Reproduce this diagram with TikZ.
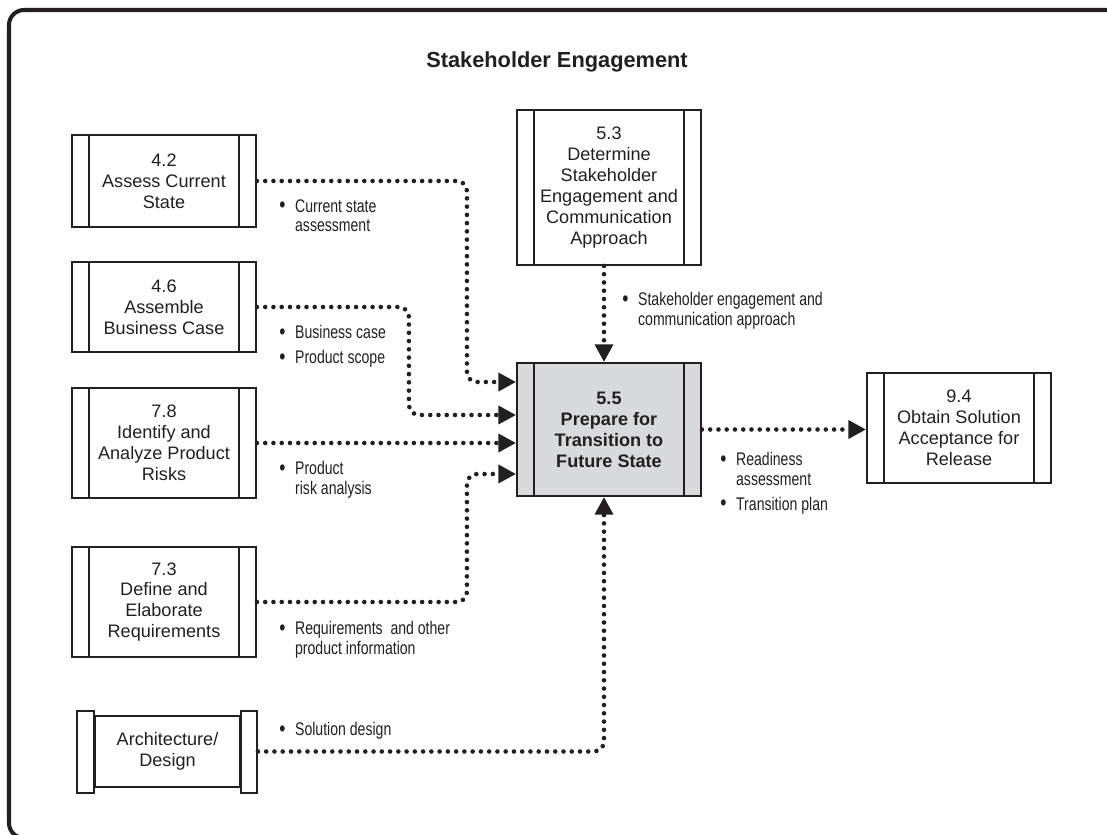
\documentclass[tikz,border=0pt]{standalone}
\usepackage{fontspec}
\setmainfont{Liberation Sans}
\newfontfamily\narrowfont{Liberation Sans}[FakeStretch=0.77]
\usetikzlibrary{arrows.meta,calc}
\definecolor{inkblack}{RGB}{35,31,32}
\definecolor{taskgray}{RGB}{217,218,220}
\newcommand{\blt}{\makebox[9pt][l]{\raisebox{-0.4pt}{\fontsize{13pt}{0pt}\selectfont\textbullet}}}
\newcommand{\ind}{\hspace*{9pt}}

\begin{document}
\begin{tikzpicture}[x=0.02cm, y=-0.02cm,
    taskbox/.style={draw=inkblack, line width=1.1pt, minimum width=3.68cm, inner sep=0pt,
        align=center, font=\fontsize{10.3pt}{11.9pt}\selectfont, text=inkblack,
        path picture={\draw[inkblack, line width=0.9pt]
            ([xshift=0.34cm]path picture bounding box.north west) -- ([xshift=0.34cm]path picture bounding box.south west)
            ([xshift=-0.34cm]path picture bounding box.north east) -- ([xshift=-0.34cm]path picture bounding box.south east);}},
    flow/.style={draw=inkblack, line width=2.6pt, line cap=round, dash pattern=on 0pt off 4.7pt,
        rounded corners=0.2cm, -{Triangle[length=10pt,width=10pt]}},
    lbl/.style={anchor=north west, align=left, inner sep=0pt, text=inkblack,
        font=\narrowfont\fontsize{10.4pt}{11.2pt}\selectfont}]
    \useasboundingbox (0,0) rectangle (1107,835);

    % frame and title
    \begin{scope}
        \clip (0,0) rectangle (1107,835);
        \draw[inkblack, line width=2.3pt, rounded corners=0.3cm] (9,10) rectangle (1130,838);
    \end{scope}
    \node[font=\bfseries\fontsize{12.4pt}{14pt}\selectfont, text=inkblack] (title) at (557,62) {Stakeholder Engagement};

    % tasks
    \node[taskbox, minimum height=1.84cm] (a42) at (164,181) {4.2\\Assess Current\\State};
    \node[taskbox, minimum height=1.8cm] (a46) at (164,307) {4.6\\Assemble\\Business Case};
    \node[taskbox, minimum height=2.2cm] (a78) at (164,443) {7.8\\Identify and\\Analyze Product\\Risks};
    \node[taskbox, minimum height=2.2cm] (a73) at (164,602) {7.3\\Define and\\Elaborate\\Requirements};
    \node[taskbox, minimum height=3.1cm] (d53) at (609,187.5) {5.3\\Determine\\Stakeholder\\Engagement and\\Communication\\Approach};
    \node[taskbox, minimum height=2.66cm, fill=taskgray, font=\bfseries\fontsize{10.3pt}{11.9pt}\selectfont] (p55) at (609,429.5) {5.5\\Prepare for\\Transition to\\Future State};
    \node[taskbox, minimum height=2.2cm] (o94) at (959,428) {9.4\\Obtain Solution\\Acceptance for\\Release};

    % architecture/design (external)
    \node[draw=inkblack, line width=1.1pt, minimum width=2.9cm, minimum height=1.42cm, inner sep=0pt,
        align=center, font=\fontsize{10.3pt}{11.9pt}\selectfont, text=inkblack] (arch) at (167.5,751.5) {Architecture/\\Design};
    \draw[inkblack, line width=1.1pt] ([xshift=-0.34cm,yshift=0.08cm]arch.north west) rectangle ([yshift=-0.1cm]arch.south west);
    \draw[inkblack, line width=1.1pt] ([yshift=0.08cm]arch.north east) rectangle ([xshift=0.32cm,yshift=-0.1cm]arch.south east);
    \coordinate (archout) at ([xshift=0.34cm]arch.east);

    % inputs
    \draw[flow] (a42.east) -- ++(210,0) |- ([yshift=0.95cm]p55.west);
    \draw[flow] (a46.east) -- ++(152,0) |- ([yshift=0.29cm]p55.west);
    \draw[flow] (a78.east) -- (a78.east -| p55.west);
    \draw[flow] (a73.east) -- ++(210,0) |- ([yshift=-0.89cm]p55.west);
    \draw[flow] (archout) -| ([xshift=-0.1cm]p55.south);
    \draw[flow] ([xshift=-0.1cm]d53.south) -- ([xshift=-0.1cm]p55.north);
    % output
    \draw[flow] (p55.east) -- (p55.east -| o94.west);

    % labels
    \node[lbl] (l42) at (279,199) {\blt Current state\\\ind assessment};
    \node[lbl] (l53) at (622,292) {\blt Stakeholder engagement and\\\ind communication approach};
    \node[lbl] (l46) at (279,325) {\blt Business case\\[3pt]\blt Product scope};
    \node[lbl] (l78) at (279,461) {\blt Product\\\ind risk analysis};
    \node[lbl] (l73) at (279,621) {\blt Requirements~ and other\\\ind product information};
    \node[lbl] (larch) at (279,722) {\blt Solution design};
    \node[lbl] (l55) at (720,452) {\blt Readiness\\\ind assessment\\[3pt]\blt Transition plan};
\end{tikzpicture}
\end{document}
